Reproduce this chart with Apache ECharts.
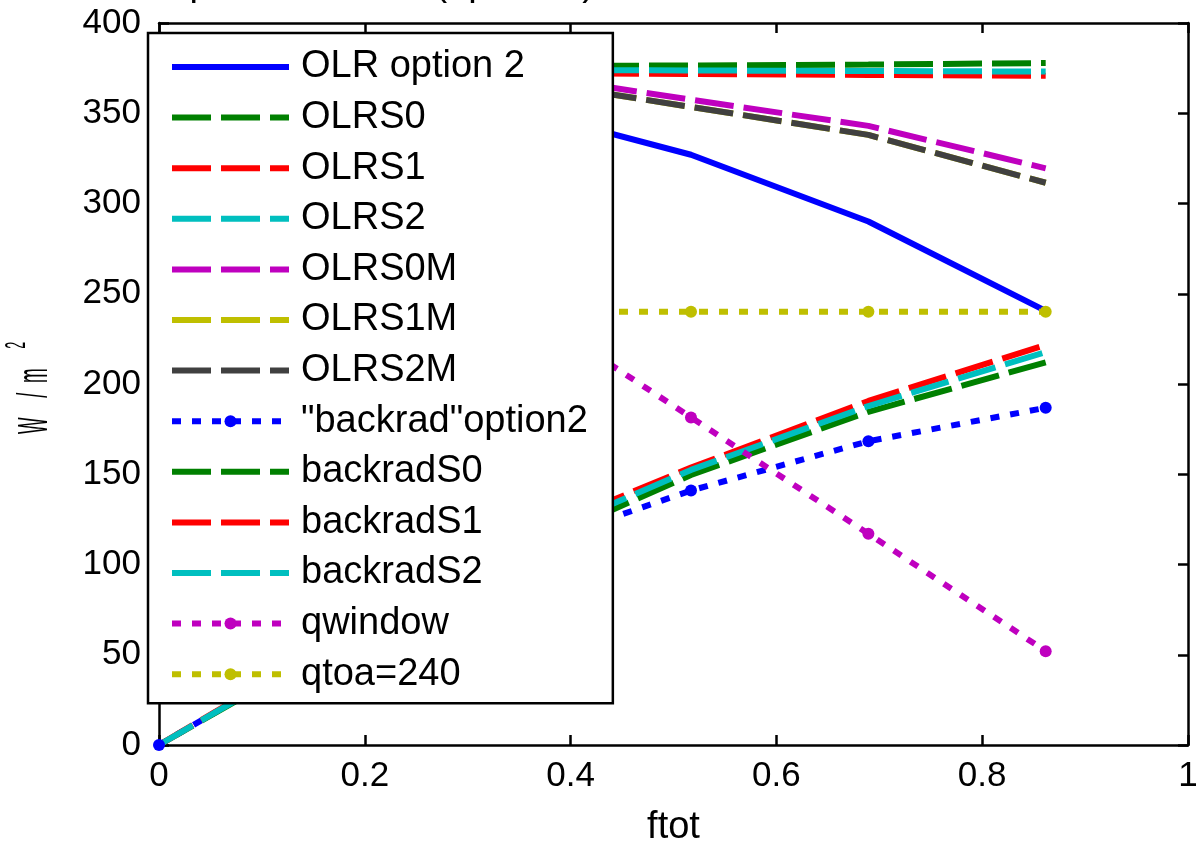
<!DOCTYPE html>
<html><head><meta charset="utf-8">
<script src="https://cdn.jsdelivr.net/npm/echarts@6/dist/echarts.min.js"></script>
<style>html,body{margin:0;padding:0;background:#fff}#c{width:1196px;height:843px}</style>
</head><body><div id="c"></div>
<script>
// ---- data ----
const xValues = [0, 0.1723, 0.3447, 0.5170, 0.6894, 0.8617];
const olrOption2 = [392, 373, 353, 327, 290, 240.5];
const olrS0 = [375.5, 375.8, 376.1, 376.5, 377.0, 377.8];
const olrS1 = [373.0, 372.6, 372.2, 371.7, 371.2, 370.8];
const olrS2 = [374.5, 374.3, 374.0, 373.7, 373.4, 373.1];
const olrS0M = [386, 380, 372.5, 357.5, 343, 319.5];
const olrS1M = [385, 378, 369, 353.5, 338, 311.5];
const olrS2M = [385, 378, 369, 353.5, 338, 311.5];
const backradOption2 = [0, 57, 107, 141, 168.3, 186.8];
const backradS0 = [0, 56, 106, 149.6, 184.6, 212];
const backradS1 = [0, 58, 113, 153.7, 190.6, 221.6];
const backradS2 = [0, 57, 110, 152.4, 187.8, 217.7];
const qwindow = [376, 311, 246, 181.5, 117, 52];
const qtoa = [240, 240, 240, 240, 240, 240];
const seriesNames = ['OLR option 2','OLRS0','OLRS1','OLRS2','OLRS0M','OLRS1M','OLRS2M','"backrad"option2','backradS0','backradS1','backradS2','qwindow','qtoa=240'];
const seriesValues = [olrOption2, olrS0, olrS1, olrS2, olrS0M, olrS1M, olrS2M, backradOption2, backradS0, backradS1, backradS2, qwindow, qtoa];
const xTickLabels = ['0', '0.2', '0.4', '0.6', '0.8', '1'];
const yTickLabels = ['0', '50', '100', '150', '200', '250', '300', '350', '400'];
const titleText = 'Output flux vs ftot (option 2)';

// ---- styles ----
const colors = ['#0000ff','#008000','#ff0000','#00bfbf','#bf00bf','#bfbf00','#404040','#0000ff','#008000','#ff0000','#00bfbf','#bf00bf','#bfbf00'];
const kinds = ['solid','dash','dash','dash','dash','dash','dash','dot','dash','dash','dash','dot','dot'];
const DASH = [39, 10], DOT = [9, 11];
const FONT = 'Liberation Sans, Arial, Helvetica, sans-serif';

const series = seriesNames.map((name, i) => {
  const k = kinds[i];
  return {
    name, type: 'line',
    data: xValues.map((x, j) => [x, seriesValues[i][j]]),
    symbol: k === 'dot' ? 'circle' : 'none',
    symbolSize: 12,
    showAllSymbol: true,
    lineStyle: { color: colors[i], width: 6, type: k === 'solid' ? 'solid' : (k === 'dash' ? DASH : DOT), cap: 'butt' },
    itemStyle: { color: colors[i], borderWidth: 0 },
    emphasis: { disabled: true },
    animation: false
  };
});

const legendData = seriesNames.map((name, i) => kinds[i] === 'dot'
  ? { name }
  : { name, itemStyle: { color: 'rgba(0,0,0,0)', opacity: 0, borderWidth: 0 } });

const axisCommon = {
  type: 'value',
  axisLine: { show: true, onZero: false, lineStyle: { color: '#000', width: 2.5 } },
  axisTick: { show: true, inside: true, length: 10, lineStyle: { color: '#000', width: 2.5 } },
  splitLine: { show: false }
};

const chart = echarts.init(document.getElementById('c'), null, { renderer: 'canvas' });
chart.setOption({
  backgroundColor: '#fff',
  animation: false,
  title: {
    text: titleText, right: 596, top: -39,
    textStyle: { fontSize: 38, fontWeight: 'normal', fontFamily: FONT, color: '#000' }
  },
  grid: { left: 159, right: 8, top: 23, bottom: 98, containLabel: false, outerBoundsMode: 'none' },
  xAxis: [
    Object.assign({}, axisCommon, {
      position: 'bottom', min: 0, max: 1, interval: 0.2,
      axisLabel: { show: true, fontSize: 35, fontFamily: FONT, color: '#000', margin: 14,
        formatter: v => xTickLabels[Math.round(v / 0.2)] },
      name: 'ftot', nameLocation: 'middle', nameGap: 64,
      nameTextStyle: { fontSize: 38, fontFamily: FONT, color: '#000' }
    }),
    Object.assign({}, axisCommon, {
      position: 'top', min: 0, max: 1, interval: 0.2,
      axisLabel: { show: false }
    })
  ],
  yAxis: [
    Object.assign({}, axisCommon, {
      position: 'left', min: 0, max: 400, interval: 50,
      axisLabel: { show: true, fontSize: 35, fontFamily: FONT, color: '#000', margin: 18,
        formatter: v => yTickLabels[Math.round(v / 50)] }
    }),
    Object.assign({}, axisCommon, {
      position: 'right', min: 0, max: 400, interval: 50,
      axisLabel: { show: false }
    })
  ],
  legend: {
    data: legendData,
    orient: 'vertical', left: 148, top: 33,
    padding: [14, 25, 9, 21],
    itemWidth: 117, itemHeight: 15, itemGap: 10.6,
    backgroundColor: '#fff', borderColor: '#000', borderWidth: 2.5, borderRadius: 0,
    textStyle: { fontSize: 38, fontFamily: FONT, color: '#000', lineHeight: 40, padding: [0, 0, 0, 7] },
    lineStyle: { width: 6 },
    selectedMode: false
  },
  graphic: [{
    type: 'text',
    x: 56, y: 434,
    rotation: Math.PI / 2,
    scaleX: 0.42,
    style: {
      text: '{a|W    /  m    }{b|2}',
      fill: '#000',
      align: 'left', verticalAlign: 'bottom',
      rich: {
        a: { fontSize: 42, fontFamily: FONT, lineHeight: 54, verticalAlign: 'bottom' },
        b: { fontSize: 30, fontFamily: FONT, lineHeight: 54, verticalAlign: 'top' }
      }
    }
  }],
  series
});
</script></body></html>
